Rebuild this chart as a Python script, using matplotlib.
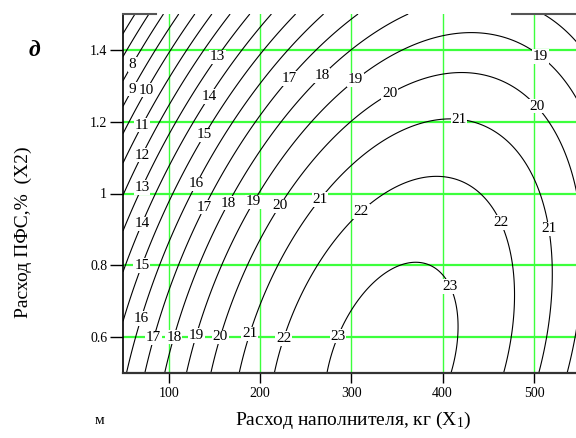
import numpy as np
import matplotlib
matplotlib.use("Agg")
import matplotlib.pyplot as plt

plt.rcParams['font.family'] = ['Liberation Serif', 'DejaVu Serif']
plt.rcParams['mathtext.fontset'] = 'custom'
plt.rcParams['mathtext.rm'] = 'Liberation Serif'
plt.rcParams['mathtext.it'] = 'Liberation Serif:italic'

# second-order regression model: Y = b0 + b1*X1 + b2*X2 + b11*X1^2 + b22*X2^2 + b12*X1*X2
b0, b1, b2 = 14.2478, 0.0527145, 0.428649
b11, b22, b12 = -8.97254e-05, -5.98975, 0.0170482

x1_range = [50, 550]
x2_range = [0.5, 1.5]
contour_levels = list(range(6, 24))

x1_ticks = [100, 200, 300, 400, 500]
x2_ticks = [0.6, 0.8, 1.0, 1.2, 1.4]
x2_tick_labels = ["0.6", "0.8", "1", "1.2", "1.4"]

# where the level numbers sit along the isolines
label_spots = [(60.0, 1.360), (60.0, 1.291), (75.8, 1.288), (70.4, 1.191), (70.4, 1.107),
               (70.4, 1.017), (154.1, 1.379), (71.0, 0.915), (145.0, 1.270), (71.0, 0.799),
               (139.5, 1.163), (71.0, 0.651), (130.3, 1.027), (83.1, 0.598), (139.5, 0.962),
               (232.1, 1.321), (105.8, 0.600), (165.4, 0.973), (268.0, 1.328), (130.3, 0.605),
               (192.9, 0.977), (305.3, 1.314), (505.8, 1.377), (157.1, 0.600), (221.1, 0.966),
               (343.0, 1.274), (502.2, 1.242), (188.9, 0.609), (266.1, 0.983), (417.6, 1.198),
               (515.7, 0.901), (226.6, 0.596), (310.8, 0.950), (464.5, 0.920), (286.2, 0.602),
               (410.3, 0.744)]

x1 = np.linspace(x1_range[0], x1_range[1], 500)
x2 = np.linspace(x2_range[0], x2_range[1], 500)
X1, X2 = np.meshgrid(x1, x2)
Y = b0 + b1*X1 + b2*X2 + b11*X1**2 + b22*X2**2 + b12*X1*X2

fig = plt.figure(figsize=(5.76, 4.38), dpi=100)
ax = fig.add_axes([123/576, 65/438, 456.6/576, 359/438])
ax.set_xlim(*x1_range)
ax.set_ylim(*x2_range)

grid_green = '#3cff3c'
for yy in x2_ticks:
    ax.axhline(yy, color=grid_green, lw=1.6, zorder=1)
for xx in x1_ticks:
    ax.axvline(xx, color=grid_green, lw=1.0, zorder=1)

cs = ax.contour(X1, X2, Y, levels=contour_levels, colors='black', linewidths=0.8, zorder=2)
labels = ax.clabel(cs, inline=False, fmt='%d', fontsize=11, manual=label_spots)
for t in labels:
    t.set_rotation(0)
    t.set_bbox(dict(facecolor='white', edgecolor='none', pad=0.6))
    t.set_zorder(3)

# frame: full left and bottom edges, short pieces of the top edge
for side in ['top', 'right']:
    ax.spines[side].set_visible(False)
ax.spines['left'].set_linewidth(1.2)
ax.spines['left'].set_color('black')
ax.spines['bottom'].set_linewidth(1.6)
ax.spines['bottom'].set_color('#333333')
ax.plot([50, 86], [1.5, 1.5], color='#555555', lw=1.5, clip_on=False, zorder=4)
ax.plot([476, 550], [1.5, 1.5], color='#555555', lw=1.5, clip_on=False, zorder=4)

ax.set_xticks(x1_ticks)
ax.set_yticks(x2_ticks)
ax.set_yticklabels(x2_tick_labels)
ax.tick_params(axis='y', direction='out', length=9.4, width=1.0, pad=2, labelsize=10)
ax.tick_params(axis='x', direction='out', length=7, width=1.0, pad=3, labelsize=10)

fig.text(23/576, 1 - 232/438, 'Расход ПФС,%  (X2)', rotation=90, ha='center', va='center', fontsize=14)
fig.text(353/576, 1 - 420/438, r'Расход наполнителя, кг (X$_\mathrm{1}$)', ha='center', va='center', fontsize=14)
fig.text(34/576, 1 - 50/438, 'д', ha='center', va='center', fontsize=17, fontweight='bold', fontstyle='italic')
fig.text(99/576, 1 - 421/438, 'м', ha='center', va='center', fontsize=11)

fig.savefig('out.png', dpi=100)
